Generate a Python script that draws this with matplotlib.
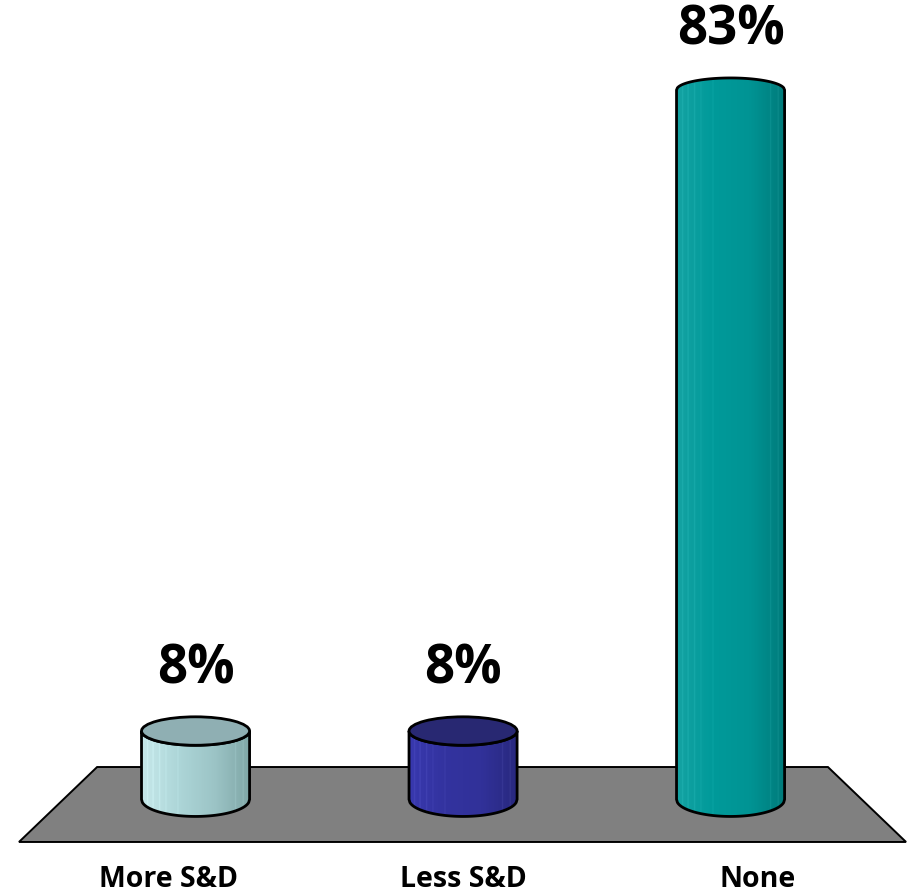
import numpy as np
import matplotlib
matplotlib.use("Agg")
import matplotlib.pyplot as plt
from matplotlib.patches import Polygon, Ellipse
from matplotlib.colors import LinearSegmentedColormap

categories = ["More S&D", "Less S&D", "None"]
values = [8, 8, 83]
value_labels = ["8%", "8%", "83%"]

body_colors = [
    ["#C6E8EA", "#ADD6D8", "#9CC4C6", "#7FA6A6"],
    ["#3838AE", "#33339F", "#313199", "#28287E"],
    ["#14A2A2", "#009A9A", "#009494", "#007A7A"],
]
top_colors = ["#8FAFB3", "#282872", "#007878"]

plt.rcParams['font.family'] = ['Open Sans', 'DejaVu Sans']

fig = plt.figure(figsize=(9.13, 8.93), dpi=100)
ax = fig.add_axes([0, 0, 1, 1])
ax.set_xlim(-0.731, 2.682)
ax.set_ylim(-10.95, 93.53)
ax.axis('off')

# floor (perspective trapezoid)
floor = Polygon([(-0.660, -4.98), (2.656, -4.98), (2.364, 3.79), (-0.368, 3.79)],
                closed=True, facecolor="#808080", edgecolor="black", lw=1.4, zorder=1)
ax.add_patch(floor)

half_w = 0.202
v_h = 48.6          # horizon level (value units)
persp = 0.041       # ellipse semi-minor per value unit below horizon

def semi_minor(v):
    return persp * (v_h - v)

t = np.linspace(-1, 1, 121)
for i, (v, cols, tc) in enumerate(zip(values, body_colors, top_colors)):
    xs = i + half_w * t
    b_top = semi_minor(v)
    b_bot = semi_minor(0)
    top_edge = v - b_top * np.sqrt(1 - t ** 2)
    bot_edge = 0 - b_bot * np.sqrt(1 - t ** 2)
    verts = np.concatenate([np.column_stack([xs, top_edge]),
                            np.column_stack([xs[::-1], bot_edge[::-1]])])
    body = Polygon(verts, closed=True, facecolor='none', edgecolor='none', zorder=3)
    ax.add_patch(body)
    cmap = LinearSegmentedColormap.from_list("c%d" % i, cols)
    grad = np.linspace(0, 1, 300)
    stripes = np.zeros_like(grad)
    for s in [0.05, 0.1, 0.16, 0.22, 0.33, 0.86, 0.93]:
        stripes[np.abs(grad - s) < 0.004] = -0.08
    img = cmap(np.clip(grad, 0, 1))[None, :, :3]
    img = np.clip(img - stripes[None, :, None] * 0.6, 0, 1)
    im = ax.imshow(img, extent=[i - half_w, i + half_w, bot_edge.min(), top_edge.max() + 3],
                   aspect='auto', zorder=3, interpolation='bilinear')
    im.set_clip_path(body)
    outline = Polygon(verts, closed=True, facecolor='none', edgecolor='black', lw=2.0, zorder=4)
    ax.add_patch(outline)
    if b_top > 0:
        ax.add_patch(Ellipse((i, v), 2 * half_w, 2 * b_top, facecolor=tc,
                             edgecolor='black', lw=2.0, zorder=5))
    ax.annotate(value_labels[i], (i, v + max(b_top, -b_top)), xytext=(0, 24),
                textcoords='offset points', ha='center', va='baseline',
                fontsize=38, fontweight='bold', zorder=6)
    ax.annotate(categories[i], (i + (i - 1) * 0.1, -10.95), xytext=(0, 4.5),
                textcoords='offset points', ha='center', va='baseline',
                fontsize=20.5, fontweight='bold', zorder=6)

fig.savefig("out.png", dpi=100, facecolor='white')
